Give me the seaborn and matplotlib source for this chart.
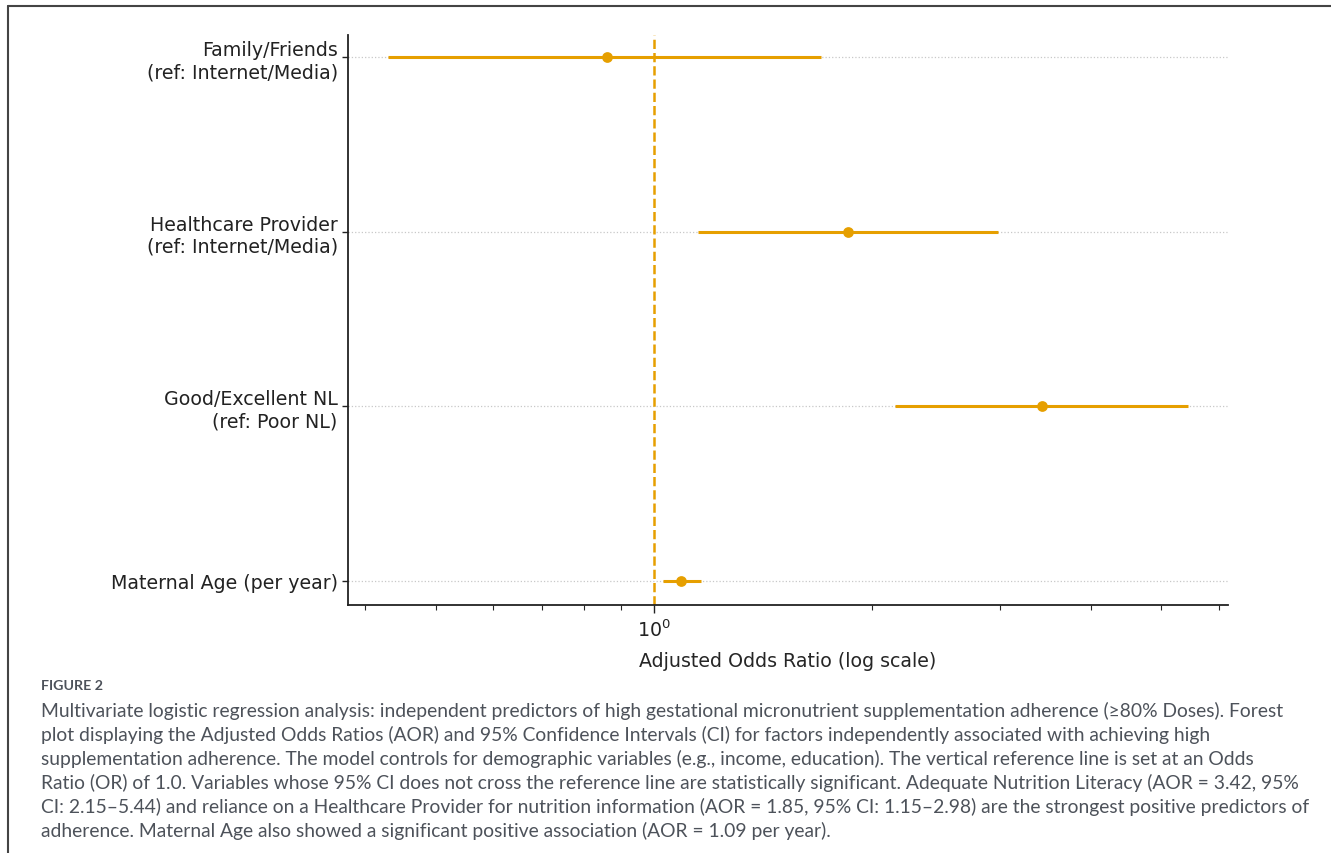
import matplotlib
matplotlib.use("Agg")
import matplotlib.pyplot as plt
from matplotlib.lines import Line2D
import seaborn as sns
import pandas as pd

# === Data ===
predictors = [
    "Family/Friends\n(ref: Internet/Media)",
    "Healthcare Provider\n(ref: Internet/Media)",
    "Good/Excellent NL\n(ref: Poor NL)",
    "Maternal Age (per year)",
]
aor = [0.86, 1.85, 3.42, 1.09]
ci_low = [0.43, 1.15, 2.15, 1.03]
ci_high = [1.70, 2.98, 5.44, 1.16]

caption_title = "FIGURE 2"
caption_lines = [
    "Multivariate logistic regression analysis: independent predictors of high gestational micronutrient supplementation adherence (\u226580% Doses). Forest",
    "plot displaying the Adjusted Odds Ratios (AOR) and 95% Confidence Intervals (CI) for factors independently associated with achieving high",
    "supplementation adherence. The model controls for demographic variables (e.g., income, education). The vertical reference line is set at an Odds",
    "Ratio (OR) of 1.0. Variables whose 95% CI does not cross the reference line are statistically significant. Adequate Nutrition Literacy (AOR = 3.42, 95%",
    "CI: 2.15\u20135.44) and reliance on a Healthcare Provider for nutrition information (AOR = 1.85, 95% CI: 1.15\u20132.98) are the strongest positive predictors of",
    "adherence. Maternal Age also showed a significant positive association (AOR = 1.09 per year).",
]

df = pd.DataFrame({"predictor": predictors, "aor": aor, "lo": ci_low, "hi": ci_high})

# === Style ===
sns.set_theme(style="ticks")
plt.rcParams["font.family"] = ["DejaVu Sans"]
orange = "#E69F00"

fig = plt.figure(figsize=(13.31, 8.54), dpi=100)
ax = fig.add_axes([0.2615, 0.2904, 0.661, 0.6674])

# CI bars + point estimates (seaborn puts first category on top)
sns.scatterplot(data=df, x="aor", y="predictor", color=orange, s=60,
                edgecolor=orange, linewidth=0, zorder=3, ax=ax)
ax.hlines(y=df["predictor"], xmin=df["lo"], xmax=df["hi"], color=orange, lw=2.2, zorder=2)

ax.axvline(1, color=orange, ls="--", lw=1.8, zorder=1)

ax.set_xscale("log")
ax.margins(x=0.05)
ax.set_ylim(3.14, -0.126)
ax.grid(axis="y", ls=":", lw=0.9, color="#c8c8c8", zorder=0)

ax.set_xlabel("Adjusted Odds Ratio (log scale)", fontsize=13.7, labelpad=8)
ax.set_ylabel("")
ax.tick_params(axis="both", labelsize=13.7, colors="#222222", width=1)
ax.tick_params(axis="x", which="minor", length=3.5, width=0.8)
ax.tick_params(axis="x", which="major", length=6)
ax.tick_params(axis="y", length=4)
for sp in ["left", "bottom"]:
    ax.spines[sp].set_linewidth(1.3)
    ax.spines[sp].set_color("#222222")
sns.despine(ax=ax)

# === Caption ===
cap_font = ["Lato", "DejaVu Sans"]
fig.text(41 / 1331, 1 - 686 / 854, caption_title, fontsize=10.3, fontweight="bold",
         color="#4d525a", family=cap_font, va="center", ha="left")
for i, line in enumerate(caption_lines):
    fig.text(41 / 1331, 1 - (711 + i * 24) / 854, line, fontsize=13.9,
             color="#4d525a", family=cap_font, va="center", ha="left")

# frame lines (left and top)
fig.add_artist(Line2D([8 / 1331, 8 / 1331], [0, 1 - 7 / 854], color="#444444", lw=1.5,
                      transform=fig.transFigure))
fig.add_artist(Line2D([8 / 1331, 1], [1 - 7 / 854, 1 - 7 / 854], color="#444444", lw=1.5,
                      transform=fig.transFigure))

fig.savefig("out.png", dpi=100)
